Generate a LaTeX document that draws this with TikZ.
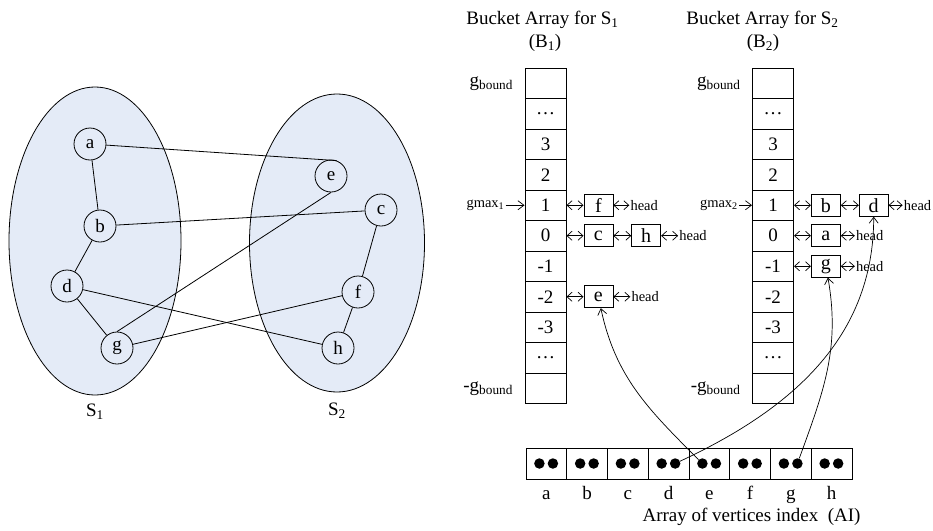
\documentclass[tikz,border=0pt]{standalone}
\usepackage{fontspec}
\setmainfont{Liberation Serif}
\usetikzlibrary{arrows.meta,positioning,shapes.geometric}
\definecolor{setfill}{RGB}{228,235,247}
\tikzset{
  every node/.style={font=\fontsize{19}{21}\selectfont},
  set/.style={ellipse, draw=black, fill=setfill, line width=0.8pt, inner sep=0pt},
  vtx/.style={circle, draw=black, line width=0.8pt, minimum size=32pt, inner sep=0pt},
  edge/.style={line width=0.8pt},
  cell/.style={rectangle, draw=black, line width=1pt, minimum width=41pt,
    minimum height=30.5pt, inner sep=0pt},
  lbox/.style={rectangle, draw=black, line width=0.8pt, minimum width=29pt,
    minimum height=22pt, inner sep=0pt, font=\fontsize{20}{22}\selectfont},
  aicell/.style={rectangle, draw=black, line width=1pt, minimum width=40.75pt,
    minimum height=31pt, inner sep=0pt},
  dot/.style={circle, fill=black, minimum size=10.5pt, inner sep=0pt},
  small/.style={font=\fontsize{14.5}{16}\selectfont, inner sep=1pt},
  link/.style={line width=0.7pt,
    {Straight Barb[length=5pt,width=9pt]}-{Straight Barb[length=5pt,width=9pt]}},
  ptr/.style={line width=0.7pt, -{Straight Barb[length=6pt,width=9pt]}}
}

\begin{document}
\begin{tikzpicture}[x=1pt,y=-1pt]
  \useasboundingbox (0,0) rectangle (933,530);

  % the two vertex sets
  \node[set, minimum width=172pt, minimum height=308pt] (S1) at (95,241) {};
  \node[set, minimum width=175pt, minimum height=298pt] (S2) at (337,243) {};
  \node[below=5pt of S1] {S\textsubscript{1}};
  \node[below=7pt of S2] {S\textsubscript{2}};

  \foreach \v/\x/\y in {a/90/144, b/100/226, d/67/286, g/117/348,
                        e/331/176, c/381/210, f/358/292, h/338/348}
    \node[vtx] (\v) at (\x,\y) {\v};

  \draw[edge] (a) -- (b) -- (d) -- (g);
  \draw[edge] (b) -- (c) -- (f) -- (h);
  \draw[edge] (a) -- (e.70);
  \draw[edge] (d) -- (h);
  \draw[edge] (g.north) -- (e.south);
  \draw[edge] (g) -- (f);

  % bucket arrays B1 and B2
  \foreach \lab [count=\i from 0] in {{},{\ldots},3,2,1,0,-1,-2,-3,{\ldots},{}} {
    \node[cell] (u\i) at (545.5,{83.25+30.5*\i}) {\lab};
    \node[cell] (v\i) at (773,{83.25+30.5*\i}) {\lab};
  }
  \node at (542.5,20) {Bucket Array for S\textsubscript{1}};
  \node at (545,43) {(B\textsubscript{1})};
  \node at (762.5,20) {Bucket Array for S\textsubscript{2}};
  \node at (763,43) {(B\textsubscript{2})};

  \node[left=8pt of u0] {g\textsubscript{bound}};
  \node[left=8pt of u10] {-g\textsubscript{bound}};
  \node[left=8pt of v0] {g\textsubscript{bound}};
  \node[left=8pt of v10] {-g\textsubscript{bound}};

  \node[small, left=19pt of u4] (gm1) {gmax\textsubscript{1}};
  \node[small, left=13pt of v4] (gm2) {gmax\textsubscript{2}};
  \draw[ptr] (gm1) -- (u4);
  \draw[ptr] (gm2) -- (v4);

  % bucket lists of B1
  \node[lbox, right=17pt of u4] (f1) {f};
  \node[lbox, right=17pt of u5] (c1) {c};
  \node[lbox, right=18pt of c1] (h1) {h};
  \node[lbox, right=17pt of u7] (e1) {e};
  \node[small, right=16pt of f1] (hf1) {head};
  \node[small, right=17pt of h1] (hh1) {head};
  \node[small, right=17pt of e1] (he1) {head};
  \draw[link] (u4) -- (f1);
  \draw[link] (f1) -- (hf1);
  \draw[link] (u5) -- (c1);
  \draw[link] (c1) -- (h1);
  \draw[link] (h1) -- (hh1);
  \draw[link] (u7) -- (e1);
  \draw[link] (e1) -- (he1);

  % bucket lists of B2
  \node[lbox, right=17pt of v4] (b2) {b};
  \node[lbox, right=18pt of b2] (d2) {d};
  \node[lbox, right=17pt of v5] (a2) {a};
  \node[lbox, right=17pt of v6] (g2) {g};
  \node[small, right=14pt of d2] (hd2) {head};
  \node[small, right=14pt of a2] (ha2) {head};
  \node[small, right=14pt of g2] (hg2) {head};
  \draw[link] (v4) -- (b2);
  \draw[link] (b2) -- (d2);
  \draw[link] (d2) -- (hd2);
  \draw[link] (v5) -- (a2);
  \draw[link] (a2) -- (ha2);
  \draw[link] (v6) -- (g2);
  \draw[link] (g2) -- (hg2);

  % vertex index array AI
  \foreach \v [count=\i from 0] in {a,b,c,d,e,f,g,h} {
    \node[aicell] (ai\v) at ({546.4+40.75*\i},463.5) {};
    \node[dot] (ai\v-l) at ([xshift=-7pt]ai\v.center) {};
    \node[dot] (ai\v-r) at ([xshift=6.5pt]ai\v.center) {};
    \node[anchor=base] at ([yshift=-20pt]ai\v.south) {\v};
  }
  \node[anchor=base] (ailab) at (751.5,521) {Array of vertices index\ \ (AI)};

  \draw[ptr] (aie-l) to[out=135,in=-78] (e1);
  \draw[ptr] (aid-r) to[out=25,in=-90] (d2);
  \draw[ptr] (aig-r) to[out=70,in=-80] (g2);
\end{tikzpicture}
\end{document}
